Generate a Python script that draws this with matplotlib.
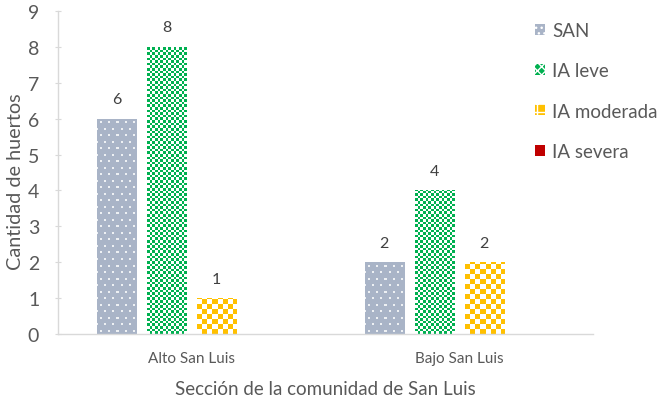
import numpy as np
import matplotlib
matplotlib.use("Agg")
import matplotlib.pyplot as plt
from matplotlib.patches import Patch

categories = ["Alto San Luis", "Bajo San Luis"]
series_names = ["SAN", "IA leve", "IA moderada", "IA severa"]
san = [6, 2]
ia_leve = [8, 4]
ia_moderada = [1, 2]
ia_severa = [0, 0]
yticks = [0, 1, 2, 3, 4, 5, 6, 7, 8, 9]

FONT = ["Lato", "DejaVu Sans"]
plt.rcParams["font.family"] = FONT
TXT = "#595959"
AX = "#D9D9D9"

colors = ["#A9B4C7", "#00B050", "#FFC000", "#C00000"]
patterns = ["dots", "small", "large", None]

fig = plt.figure(figsize=(6.64, 4.02), dpi=100)
ax = fig.add_axes([58 / 664, 1 - 335 / 402, (593 - 58) / 664, (335 - 12) / 402])

x = np.arange(len(categories))
width = 0.146
step = 0.187
offsets = [-1.5 * step, -0.5 * step, 0.5 * step, 1.5 * step]
all_series = [san, ia_leve, ia_moderada, ia_severa]

ax.set_xlim(-0.5, 1.5)
ax.set_ylim(0, 9)

containers = []
for vals, off, col in zip(all_series, offsets, colors):
    bc = ax.bar(x + off, vals, width, color=col, linewidth=0, zorder=2)
    containers.append(bc)
    for xi, v in zip(x + off, vals):
        if v > 0:
            ax.annotate(str(v), (xi, v), xytext=(0, 9), textcoords="offset points",
                        ha="center", va="bottom", fontsize=11.5, color="#404040")

def texture(kind, col, wpx, hpx, s=4):
    W, H = max(int(wpx * s), 1), max(int(hpx * s), 1)
    xx = (np.arange(W) + 0.5) / s
    yy = (np.arange(H) + 0.5) / s
    X, Y = np.meshgrid(xx, yy)
    base = np.array(matplotlib.colors.to_rgba(col))
    arr = np.tile(base, (H, W, 1))
    white = np.array([1, 1, 1, 1.0])
    if kind == "small":
        c = 2.6
        m = ((np.floor(X / c) + np.floor(Y / c)) % 2) == 0
        arr[m] = white
    elif kind == "large":
        c = 5.0
        m = ((np.floor(X / c) + np.floor(Y / c)) % 2) == 0
        arr[m] = white
    elif kind == "dots":
        px, py = 8.0, 6.5
        row = np.floor(Y / py)
        Xs = X + (row % 2) * px / 2
        dx = (Xs % px) - px / 2
        dy = (Y % py) - py / 2
        m = (np.abs(dx) < 0.9) & (np.abs(dy) < 0.9)
        arr[m] = 0.2 * base + 0.8 * white
    return arr

fig.canvas.draw()
for bc, kind, col in zip(containers, patterns, colors):
    if kind is None:
        continue
    for p in bc.patches:
        if p.get_height() <= 0:
            continue
        x0, y0 = p.get_x(), p.get_y()
        x1, y1 = x0 + p.get_width(), y0 + p.get_height()
        (dx0, dy0), (dx1, dy1) = ax.transData.transform([(x0, y0), (x1, y1)])
        arr = texture(kind, col, dx1 - dx0, dy1 - dy0)
        im = ax.imshow(arr, extent=[x0, x1, y0, y1], origin="lower",
                       interpolation="nearest", aspect="auto", zorder=2.5)
        im.set_clip_path(p)

ax.set_xlim(-0.5, 1.5)
ax.set_ylim(0, 9)
ax.set_yticks(yticks)
ax.set_xticks(x)
ax.set_xticklabels(categories)
ax.tick_params(axis="x", length=0, pad=12, labelsize=11, labelcolor=TXT)
ax.tick_params(axis="y", direction="inout", length=5, color=AX, pad=11,
               labelsize=14, labelcolor=TXT)
for s in ["top", "right"]:
    ax.spines[s].set_visible(False)
for s in ["left", "bottom"]:
    ax.spines[s].set_color(AX)
    ax.spines[s].set_linewidth(1)

ax.set_ylabel("Cantidad de huertos", fontsize=14.3, color=TXT)
ax.yaxis.label.set_va("center")
ax.yaxis.set_label_coords((16 - 58) / 535, (335 - 182) / 323)
ax.set_xlabel("Sección de la comunidad de San Luis", fontsize=13.5, color=TXT)
ax.xaxis.label.set_va("center")
ax.xaxis.set_label_coords(0.5, (335 - 390) / 323)

handles = [
    Patch(facecolor=colors[0], edgecolor="white", hatch="...", linewidth=0),
    Patch(facecolor=colors[1], edgecolor="white", hatch="xxxx", linewidth=0),
    Patch(facecolor=colors[2], edgecolor="white", hatch="++", linewidth=0),
    Patch(facecolor=colors[3], linewidth=0),
]
leg = fig.legend(handles, series_names, loc="upper left",
                 bbox_to_anchor=(535 / 664, 1 - 23 / 402), frameon=False,
                 fontsize=13.5, labelspacing=1.24, handlelength=0.53,
                 handleheight=0.53, handletextpad=0.37, borderpad=0,
                 borderaxespad=0)
for t in leg.get_texts():
    t.set_color(TXT)

fig.savefig("out.png", dpi=100)
